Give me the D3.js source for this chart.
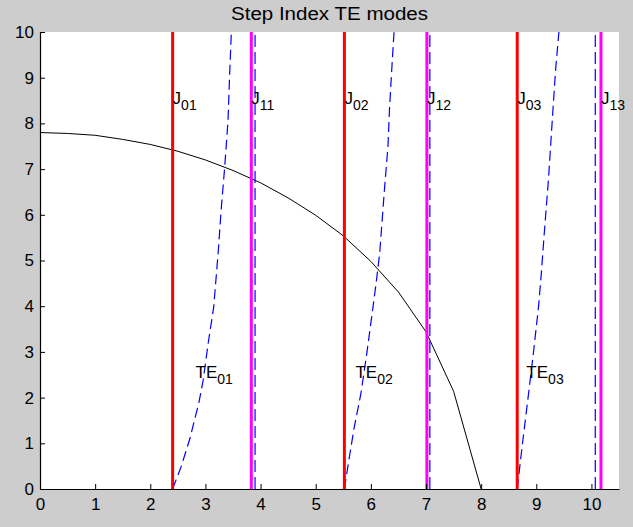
<!DOCTYPE html>
<html>
<head>
<meta charset="utf-8">
<script src="https://cdn.jsdelivr.net/npm/d3@7"></script>
<style>
  html, body { margin: 0; padding: 0; background: #cdcdcd; }
  svg { display: block; }
  text { font-family: "Liberation Sans", Arial, sans-serif; fill: #000; }
</style>
</head>
<body>
<div id="chart-container"></div>
<script>
// zeros of J0 and J1 (red / magenta markers)
const j0Zeros = [2.405, 5.520, 8.654];
const j0Labels = ["01", "02", "03"];
const j1Zeros = [3.832, 7.016, 10.173];
const j1Labels = ["11", "12", "13"];

// near-vertical dashed branches
const dashedX = [3.90, 7.07, 10.07];

// V-number circle, read at 0.5 steps
const circleU = [0, 0.5, 1, 1.5, 2, 2.5, 3, 3.5, 4, 4.5, 5, 5.5, 6, 6.5, 7, 7.5, 8];
const circleW = [7.80, 7.78, 7.74, 7.65, 7.54, 7.39, 7.20, 6.97, 6.70, 6.37, 5.99, 5.54, 4.98, 4.31, 3.44, 2.14, 0];

// TE mode curves
const te01U = [2.405, 2.56, 2.72, 2.80, 2.88, 2.96, 3.05, 3.15, 3.23, 3.29, 3.35, 3.41, 3.44, 3.47];
const te01W = [0, 0.49, 1.11, 1.50, 1.88, 2.39, 3.19, 3.98, 5.16, 6.18, 7.05, 8.07, 9.10, 10];
const te02U = [5.520, 5.61, 5.70, 5.82, 5.93, 6.04, 6.10, 6.16, 6.25, 6.31, 6.34, 6.38, 6.42];
const te02W = [0, 0.70, 1.36, 2.09, 3.00, 3.99, 4.55, 5.16, 6.61, 7.49, 8.36, 9.20, 10];
const te03U = [8.654, 8.75, 8.86, 8.95, 9.04, 9.09, 9.14, 9.22, 9.29, 9.35, 9.41];
const te03W = [0, 1.00, 2.09, 3.00, 3.98, 4.70, 5.52, 6.76, 8.07, 9.17, 10];
const teLabels = ["01", "02", "03"];
const teLabelX = [2.82, 5.72, 8.82];

const xTicks = [0, 1, 2, 3, 4, 5, 6, 7, 8, 9, 10];
const yTicks = [0, 1, 2, 3, 4, 5, 6, 7, 8, 9, 10];

function chart() {
  const width = 633;
  const height = 527;
  const marginTop = 32;
  const marginRight = 14;
  const marginBottom = 38;
  const marginLeft = 40;

  const x = d3.scaleLinear()
    .domain([0, 10.5])
    .range([marginLeft, width - marginRight]);

  const y = d3.scaleLinear()
    .domain([0, 10])
    .range([height - marginBottom, marginTop]);

  const svg = d3.create("svg")
    .attr("width", width)
    .attr("height", height)
    .attr("viewBox", [0, 0, width, height]);

  svg.append("rect")
    .attr("width", width)
    .attr("height", height)
    .attr("fill", "#cdcdcd");

  // white plot area
  svg.append("rect")
    .attr("x", x(0))
    .attr("y", y(10))
    .attr("width", x(10.5) - x(0))
    .attr("height", y(0) - y(10))
    .attr("fill", "#fff");

  const plot = svg.append("g");

  // black circle curve
  const line = d3.line().x(d => x(d[0])).y(d => y(d[1]));
  plot.append("path")
    .datum(d3.zip(circleU, circleW))
    .attr("fill", "none")
    .attr("stroke", "#000")
    .attr("stroke-width", 1)
    .attr("d", line);

  // TE curves
  [[te01U, te01W], [te02U, te02W], [te03U, te03W]].forEach(([u, w]) => {
    plot.append("path")
      .datum(d3.zip(u, w))
      .attr("fill", "none")
      .attr("stroke", "#0000ff")
      .attr("stroke-width", 1.2)
      .attr("stroke-dasharray", "10,5")
      .attr("d", line);
  });

  // dashed verticals
  plot.selectAll(".dv")
    .data(dashedX)
    .join("line")
    .attr("x1", d => x(d)).attr("x2", d => x(d))
    .attr("y1", y(0)).attr("y2", y(10))
    .attr("stroke", "#0000ff")
    .attr("stroke-width", 1.2)
    .attr("stroke-dasharray", "12,5");

  // J0 zeros (red)
  plot.selectAll(".j0")
    .data(j0Zeros)
    .join("line")
    .attr("x1", d => x(d)).attr("x2", d => x(d))
    .attr("y1", y(0)).attr("y2", y(10))
    .attr("stroke", "#ff0000")
    .attr("stroke-width", 3);

  // J1 zeros (magenta)
  plot.selectAll(".j1")
    .data(j1Zeros)
    .join("line")
    .attr("x1", d => x(d)).attr("x2", d => x(d))
    .attr("y1", y(0)).attr("y2", y(10))
    .attr("stroke", "#ff00ff")
    .attr("stroke-width", 3);

  // labels with subscripts
  function label(px, py, main, sub) {
    const t = svg.append("text")
      .attr("x", px)
      .attr("y", py + 3)
      .style("font-size", "17px");
    t.append("tspan").text(main);
    t.append("tspan").attr("dy", 6).style("font-size", "14px").text(sub);
  }
  j0Zeros.forEach((d, i) => label(x(d), y(8.5), "J", j0Labels[i]));
  j1Zeros.forEach((d, i) => label(x(d), y(8.5), "J", j1Labels[i]));
  teLabelX.forEach((d, i) => label(x(d), y(2.5), "TE", teLabels[i]));

  // x-axis, ticks inside
  svg.append("g")
    .attr("transform", `translate(0,${y(0)})`)
    .call(d3.axisBottom(x).tickValues(xTicks).tickSize(-5).tickPadding(9).tickSizeOuter(0))
    .call(g => g.select(".domain").attr("stroke-width", 1.2))
    .selectAll("text")
    .style("font-size", "17px")
    .attr("font-family", null);

  // y-axis
  svg.append("g")
    .attr("transform", `translate(${x(0)},0)`)
    .call(d3.axisLeft(y).tickValues(yTicks).tickSize(-5).tickPadding(6).tickSizeOuter(0))
    .call(g => g.select(".domain").attr("stroke-width", 1.2))
    .selectAll("text")
    .style("font-size", "17px")
    .attr("font-family", null);

  svg.append("text")
    .attr("x", (x(0) + x(10.5)) / 2)
    .attr("y", 20)
    .attr("text-anchor", "middle")
    .attr("textLength", 197)
    .attr("lengthAdjust", "spacingAndGlyphs")
    .style("font-size", "18px")
    .text("Step Index TE modes");

  d3.select("#chart-container").append(() => svg.node());
}
chart();
</script>
</body>
</html>
